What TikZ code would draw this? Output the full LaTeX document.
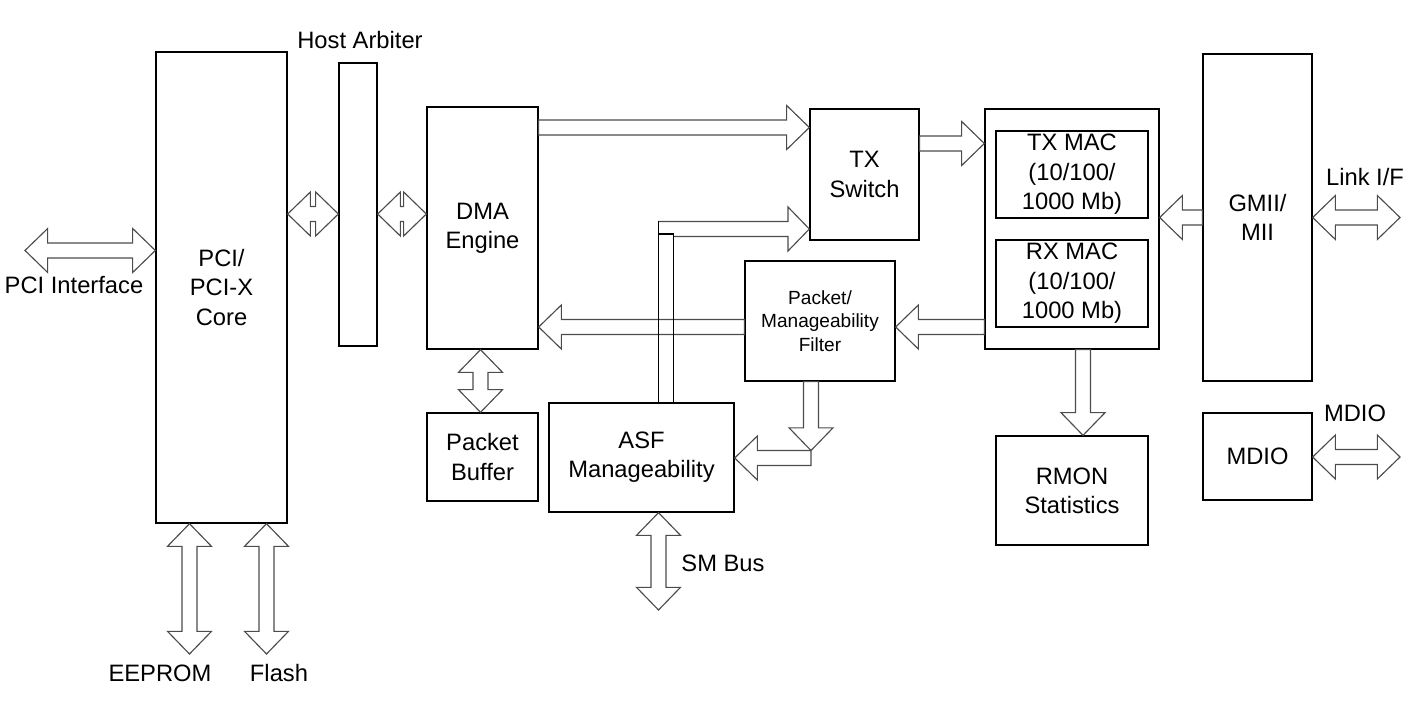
\documentclass[tikz,border=0pt]{standalone}
\usepackage{fontspec}
\setmainfont{Liberation Sans}
\usetikzlibrary{calc}

% single block arrow, tip at #2
\newcommand{\sarrow}[2]{%
  \path (#1) coordinate (sa-a) (#2) coordinate (sa-b);
  \path ($(sa-b)!17pt!(sa-a)$) coordinate (sa-h);
  \draw[barrow] ($(sa-a)!5.6pt!90:(sa-b)$) -- ($(sa-h)!5.6pt!-90:(sa-a)$)
    -- ($(sa-h)!16.5pt!-90:(sa-a)$) -- (sa-b) -- ($(sa-h)!16.5pt!90:(sa-a)$)
    -- ($(sa-h)!5.6pt!90:(sa-a)$) -- ($(sa-a)!5.6pt!-90:(sa-b)$) -- cycle;
}
% double block arrow
\newcommand{\darrow}[2]{%
  \path (#1) coordinate (da-a) (#2) coordinate (da-b);
  \path ($(da-a)!17pt!(da-b)$) coordinate (da-p) ($(da-b)!17pt!(da-a)$) coordinate (da-q);
  \draw[barrow] (da-a) -- ($(da-p)!16.5pt!90:(da-b)$) -- ($(da-p)!5.6pt!90:(da-b)$)
    -- ($(da-q)!5.6pt!-90:(da-a)$) -- ($(da-q)!16.5pt!-90:(da-a)$) -- (da-b)
    -- ($(da-q)!16.5pt!90:(da-a)$) -- ($(da-q)!5.6pt!90:(da-a)$)
    -- ($(da-p)!5.6pt!-90:(da-b)$) -- ($(da-p)!16.5pt!-90:(da-b)$) -- cycle;
}

\begin{document}
\begin{tikzpicture}[
    x=0.75pt, y=-0.75pt,
    font=\fontsize{17.8}{22}\selectfont,
    block/.style={draw, line width=1pt, inner sep=0pt, align=center},
    barrow/.style={draw=black!70, line width=0.85pt, line join=miter},
    small/.style={font=\fontsize{14.3}{17.6}\selectfont}
]
    \useasboundingbox (0,0) rectangle (1419,716);

    % Blocks
    \node [block, minimum width=98.25pt, minimum height=353.25pt] (pci) at (221.5,287.5) {PCI/\\PCI-X\\Core};
    \node [block, minimum width=28.5pt, minimum height=212.25pt] (arb) at (358,204.5) {};
    \node [block, minimum width=83.25pt, minimum height=181.5pt] (dma) at (482.5,228) {DMA\\Engine};
    \node [block, minimum width=83.25pt, minimum height=66pt] (pbuf) at (482.5,457) {Packet\\Buffer};
    \node [block, minimum width=138.75pt, minimum height=81.75pt] (asf) at (641.5,457.5) {ASF\\Manageability};
    \node [block, small, minimum width=112.5pt, minimum height=90pt] (filt) at (820,321) {Packet/\\Manageability\\Filter};
    \node [block, minimum width=81.75pt, minimum height=98.25pt] (txsw) at (864.5,174.5) {TX\\Switch};
    \node [block, minimum width=130.5pt, minimum height=180pt] (mac) at (1072,229) {};
    \node [block, minimum width=114pt, minimum height=65.25pt] (txmac) at (1072,174.5) {TX MAC\\(10/100/\\1000 Mb)};
    \node [block, minimum width=114pt, minimum height=65.25pt] (rxmac) at (1072,283.5) {RX MAC\\(10/100/\\1000 Mb)};
    \node [block, minimum width=81.75pt, minimum height=245.25pt] (gmii) at (1257.5,217.5) {GMII/\\MII};
    \node [block, minimum width=81.75pt, minimum height=65.25pt] (mdio) at (1257.5,456.5) {MDIO};
    \node [block, minimum width=114pt, minimum height=81.75pt] (rmon) at (1072,490.5) {RMON\\Statistics};

    % Labels
    \node (pcilbl) at (74,285) {PCI Interface};
    \node (arblbl) at (360,40) {Host Arbiter};
    \node (linklbl) at (1365,177) {Link I/F};
    \node (mdiolbl) at (1355,413) {MDIO};
    \node (smlbl) at (723,563) {SM Bus};
    \node (eelbl) at (160,673) {EEPROM};
    \node (fllbl) at (279,673) {Flash};

    % Bus rows and columns
    \coordinate (pcibus) at (0,250.5);
    \coordinate (hostbus) at (0,214);
    \coordinate (txbus) at (0,127.5);
    \coordinate (macbus) at (0,143.5);
    \coordinate (linkbus) at (0,217.5);
    \coordinate (rxbus) at (0,327);
    \coordinate (mdiobus) at (0,457);
    \coordinate (asfbus) at (0,458);
    \coordinate (mgmtbus) at (0,229);
    \coordinate (pbufcol) at (480.5,0);
    \coordinate (smcol) at (658.5,0);
    \coordinate (barcol) at (673.5,0);
    \coordinate (eecol) at (189.5,0);
    \coordinate (flcol) at (266.5,0);
    \coordinate (rmoncol) at (1083,0);
    \coordinate (filtcol) at (811,0);

    % Free ends
    \coordinate (pciif) at (25,250.5);
    \coordinate (linkif) at (1400,217.5);
    \coordinate (mdioif) at (1400,457);
    \coordinate (smbus) at (658.5,610);
    \coordinate (eeend) at (189.5,654);
    \coordinate (flend) at (266.5,654);
    \coordinate (fjoin) at (811,450.5);
    \coordinate (ftail) at (811,458);

    % Block arrows
    \darrow{pciif}{pci.west |- pcibus}
    \darrow{pci.east |- hostbus}{arb.west |- hostbus}
    \darrow{arb.east |- hostbus}{dma.west |- hostbus}
    \sarrow{dma.east |- txbus}{txsw.west |- txbus}
    \sarrow{txsw.east |- macbus}{mac.west |- macbus}
    \sarrow{gmii.west |- linkbus}{mac.east |- linkbus}
    \darrow{gmii.east |- linkbus}{linkif}
    \sarrow{mac.west |- rxbus}{filt.east |- rxbus}
    \sarrow{filt.west |- rxbus}{dma.east |- rxbus}
    \darrow{dma.south -| pbufcol}{pbuf.north -| pbufcol}
    \darrow{asf.south -| smcol}{smbus}
    \darrow{pci.south -| eecol}{eeend}
    \darrow{pci.south -| flcol}{flend}
    \sarrow{mac.south -| rmoncol}{rmon.north -| rmoncol}
    \darrow{mdio.east |- mdiobus}{mdioif}
    \sarrow{filt.south -| filtcol}{fjoin}
    \sarrow{ftail}{asf.east |- asfbus}

    % ASF to TX Switch
    \draw [barrow] (658.5,221.5) -- (788,221.5) -- (788,207)
        -- (txsw.west |- mgmtbus) -- (788,251) -- (788,236.5) -- (673.5,236.5);
    \draw [line width=0.85pt] (asf.north -| smcol) -- (658.5,221.5);
    \draw [line width=0.85pt] (asf.north -| barcol) -- (673.5,234) -- (658.5,234);

\end{tikzpicture}
\end{document}
